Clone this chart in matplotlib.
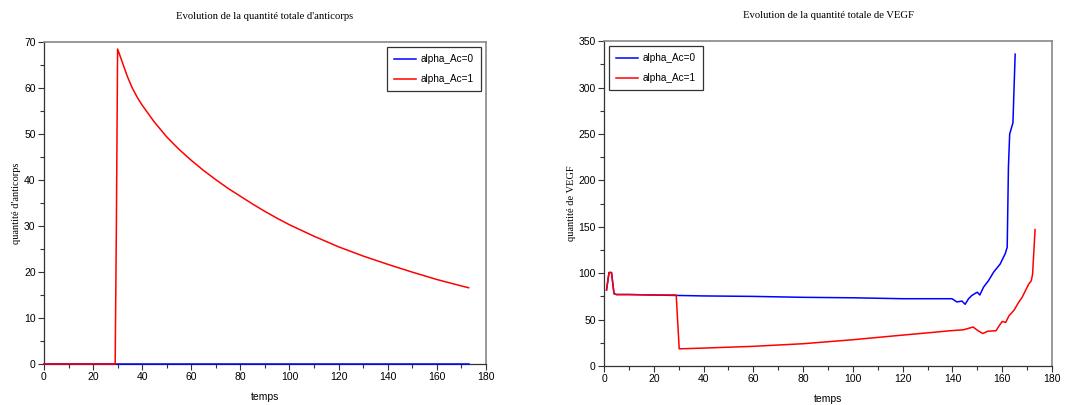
import matplotlib.pyplot as plt
from matplotlib.ticker import MultipleLocator

# anticorps
t_ac0 = [0, 173]
ac_0 = [0, 0]
t_ac1 = [0, 29, 29.5, 30, 31, 32, 34, 36, 38, 40, 45, 50, 55, 60, 65, 70, 75, 80,
         85, 90, 95, 100, 110, 120, 130, 140, 150, 160, 170, 173]
ac_1 = [0, 0, 30, 68.5, 67, 65.5, 62.5, 60, 58, 56.3, 52.6, 49.4, 46.7, 44.3, 42.1,
        40.1, 38.2, 36.5, 34.8, 33.2, 31.7, 30.3, 27.8, 25.5, 23.5, 21.7, 20.0,
        18.4, 17.0, 16.6]

# VEGF
t_v0 = [1, 2, 3, 4, 5, 10, 20, 29, 30, 40, 60, 80, 100, 120, 138, 139.8, 141.8,
        143.8, 145.1, 146.5, 147.8, 149, 150, 151, 152.5, 154.5, 156.5, 159.2,
        161.2, 162, 162.5, 163, 164.3, 165.2]
v_0 = [82, 100.7, 100.7, 78, 77, 77, 76.5, 76, 76, 75.5, 75, 74, 73.5, 72.5, 72.5,
       72.5, 69, 70, 66.5, 72.6, 76, 78, 79.5, 76.5, 85, 92, 101, 110, 121, 128,
       215, 250, 262, 336]
t_v1 = [1, 2, 3, 4, 5, 10, 20, 29, 30.2, 40, 60, 80, 100, 120, 130, 139.1, 144.4,
        148.3, 150.3, 152.2, 154.2, 157.5, 158.8, 160, 161.4, 162.7, 164.7, 166.7,
        168, 169.3, 170.6, 171.7, 172.2, 173.2]
v_1 = [82, 100.7, 100.7, 78, 77, 77, 76.5, 76.5, 18.5, 19.3, 21.2, 24, 28.3, 33.3,
       35.7, 38, 39, 42, 38, 35, 37.5, 38, 43.5, 48, 47, 54, 60, 69, 74, 81, 88,
       92, 99, 147]

plt.rcParams['font.family'] = ['Liberation Sans', 'DejaVu Sans']
plt.rcParams['font.size'] = 7.5

fig = plt.figure(figsize=(10.75, 4.05), dpi=100)
ax1 = fig.add_axes([0.0409, 0.101, 0.411, 0.795])
ax2 = fig.add_axes([0.5619, 0.0963, 0.4167, 0.802])


def style(ax, ymax, ystep, title, ylabel):
    ax.set_xlim(0, 180)
    ax.set_ylim(0, ymax)
    ax.xaxis.set_major_locator(MultipleLocator(20))
    ax.xaxis.set_minor_locator(MultipleLocator(10))
    ax.yaxis.set_major_locator(MultipleLocator(ystep))
    ax.yaxis.set_minor_locator(MultipleLocator(ystep / 2))
    ax.tick_params(which='major', direction='out', length=4, width=0.8, pad=2,
                   labelsize=7.5, colors='#333333', labelcolor='black')
    ax.tick_params(which='minor', direction='out', length=3, width=0.8,
                   colors='#333333')
    for s in ['left', 'bottom']:
        ax.spines[s].set_color('#333333')
        ax.spines[s].set_linewidth(0.9)
    for s in ['top', 'right']:
        ax.spines[s].set_color('#888888')
        ax.spines[s].set_linewidth(1.2)
    ax.set_title(title, family='Liberation Serif', fontsize=7.7, pad=17)
    ax.set_xlabel('temps', fontsize=7.5, labelpad=7)
    ax.set_ylabel(ylabel, family='Liberation Serif', fontsize=7.5, labelpad=2)


ax1.plot(t_ac0, ac_0, color='blue', lw=1.1, label='alpha_Ac=0', clip_on=False, zorder=3)
ax1.plot(t_ac1[:2], ac_1[:2], color='red', lw=1.1, clip_on=False, zorder=4)
ax1.plot(t_ac1[1:], ac_1[1:], color='red', lw=1.1, label='alpha_Ac=1', clip_on=False, zorder=4)
style(ax1, 70, 10, "Evolution de la quantité totale d'anticorps", "quantité d'anticorps")

ax2.plot(t_v0, v_0, color='blue', lw=1.1, label='alpha_Ac=0')
ax2.plot(t_v1, v_1, color='red', lw=1.1, label='alpha_Ac=1')
style(ax2, 350, 50, 'Evolution de la quantité totale de VEGF', 'quantité de VEGF')

h, l = ax1.get_legend_handles_labels()
for ax, loc in [(ax1, 'upper right'), (ax2, 'upper left')]:
    leg = ax.legend(h, ['alpha_Ac=0', 'alpha_Ac=1'], loc=loc, fontsize=7.2,
                    fancybox=False, framealpha=1, edgecolor='#333333',
                    borderpad=0.7, labelspacing=1.0, handlelength=2.2,
                    handletextpad=0.5, borderaxespad=0.5)
    leg.get_frame().set_linewidth(0.9)

fig.savefig('out.png', dpi=100)
